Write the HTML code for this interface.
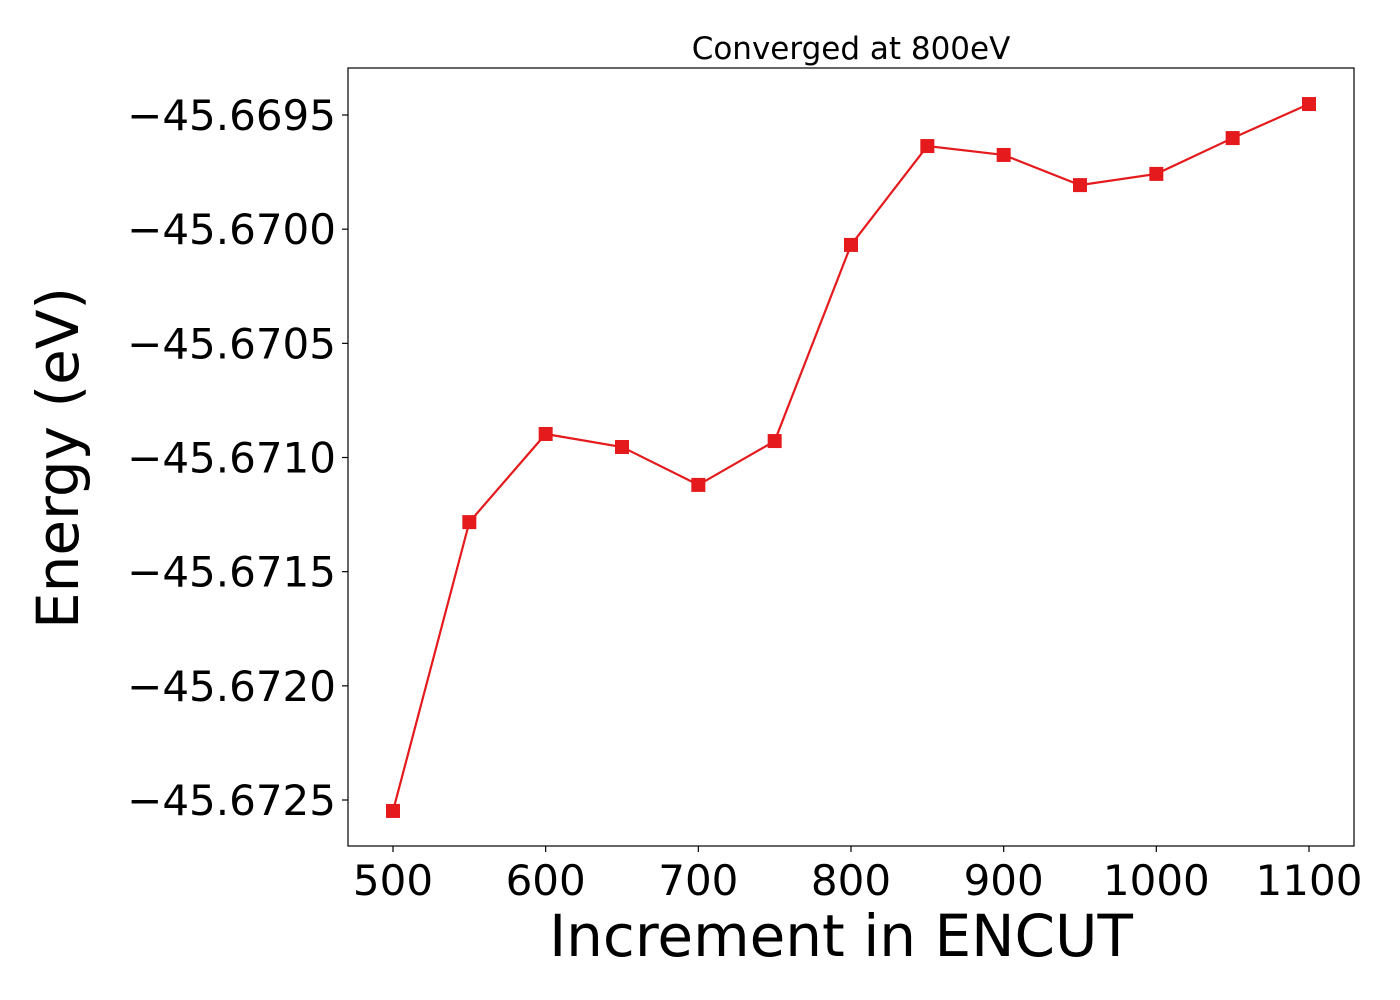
<!DOCTYPE html>
<html><head><meta charset="utf-8"><style>
html,body{margin:0;padding:0;background:#fff;}
svg{display:block;font-family:"DejaVu Sans","Liberation Sans",sans-serif;}
</style></head><body>
<svg id="chart" width="1400" height="1000" xmlns="http://www.w3.org/2000/svg">
<text x="851" y="59" font-size="31" text-anchor="middle">Converged at 800eV</text>
<rect x="348" y="68" width="1006" height="778" fill="none" stroke="#000" stroke-width="1.2"/>
<g id="xticks"></g>
<g id="yticks"></g>
<text x="841" y="956" font-size="58" text-anchor="middle">Increment in ENCUT</text>
<text transform="translate(78,458) rotate(-90)" font-size="58" text-anchor="middle">Energy (eV)</text>
<g id="series"></g>
</svg>
<script>
const encutValues = [500,550,600,650,700,750,800,850,900,950,1000,1050,1100];
const energyValues = [-45.672548,-45.671283,-45.670897,-45.670954,-45.671120,-45.670928,-45.670069,-45.669636,-45.669675,-45.669807,-45.669758,-45.669601,-45.669452];
const xTickValues = [500,600,700,800,900,1000,1100];
const yTickValues = [-45.6695,-45.6700,-45.6705,-45.6710,-45.6715,-45.6720,-45.6725];
const yTickLabels = ["\u221245.6695","\u221245.6700","\u221245.6705","\u221245.6710","\u221245.6715","\u221245.6720","\u221245.6725"];

const NS="http://www.w3.org/2000/svg";
function xScale(v){return 393+(v-500)/600*916;}
function yScale(v){return 800-(v-(-45.6725))/0.003*685;}
function mk(tag,attrs,parent){const e=document.createElementNS(NS,tag);for(const k in attrs)e.setAttribute(k,attrs[k]);parent.appendChild(e);return e;}

const xg=document.getElementById('xticks');
xTickValues.forEach(v=>{
  const x=xScale(v);
  const t=mk('line',{x1:x,x2:x,y1:846,y2:852,stroke:'#000','stroke-width':1.2},xg);
  
  
  const l=mk('text',{x:x,y:895,'font-size':42,'text-anchor':'middle'},xg);
  l.textContent=v;
  
  
});
const yg=document.getElementById('yticks');
yTickValues.forEach((v,i)=>{
  const y=yScale(v);
  const t=mk('line',{x1:342,x2:348,y1:y,y2:y,stroke:'#000','stroke-width':1.2},yg);
  
  
  const l=mk('text',{x:336,y:y+15,'font-size':42,'text-anchor':'end'},yg);
  l.textContent=yTickLabels[i];
  
  
});
const sg=document.getElementById('series');
const pts=encutValues.map((v,i)=>xScale(v)+','+yScale(energyValues[i])).join(' ');
const pl=mk('polyline',{points:pts,fill:'none',stroke:'#e41a1c','stroke-width':2.2},sg);


encutValues.forEach((v,i)=>{
  const r=mk('rect',{x:xScale(v)-7,y:yScale(energyValues[i])-7,width:14,height:14,fill:'#e41a1c'},sg);
  
  
});
</script>
</body></html>
